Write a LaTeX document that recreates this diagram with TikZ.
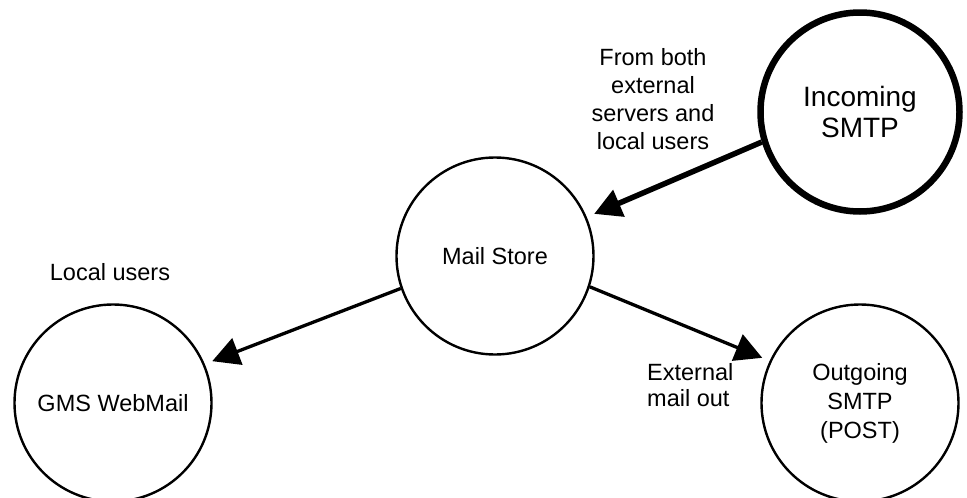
\documentclass[tikz,border=0pt]{standalone}
\usepackage{fontspec}
\setmainfont{Liberation Sans}
\usetikzlibrary{arrows.meta}
\begin{document}
\begin{tikzpicture}[x=1pt, y=-1pt,
	every node/.style={draw, circle, line width=2.4pt, minimum size=197pt, inner sep=0pt, align=center, font=\fontsize{23.5}{29}\selectfont},
	note/.style={draw=none, rectangle, minimum size=0pt, inner sep=1pt},
	every edge/.style={draw, line width=3.3pt, -{Triangle[length=27pt,width=28pt]}, shorten >=8pt}]
	
	\useasboundingbox (0,0) rectangle (967,498);
	
	\node[line width=6.5pt, minimum size=199pt, font=\fontsize{28}{31}\selectfont] (incoming) at (860,112) {Incoming\\SMTP};
	\node (store) at (495,256) {Mail Store};
	\node (webmail) at (113,403) {GMS WebMail};
	\node (outgoing) at (860,403) {Outgoing\\SMTP\\(POST)};
	
	\node[note, font=\fontsize{23.5}{28}\selectfont] (fromboth) at (653,99) {From both\\external\\servers and\\local users};
	\node[note] (local) at (110,272) {Local users};
	\node[note, anchor=west, align=left, font=\fontsize{23.5}{26}\selectfont] (external) at (645,385) {External\\mail out};
	
	\path (incoming.197) edge[line width=5.5pt] (store.23);
	\path (store.199) edge (webmail.23);
	\path (store.342) edge (outgoing.155);

\end{tikzpicture}
\end{document}
